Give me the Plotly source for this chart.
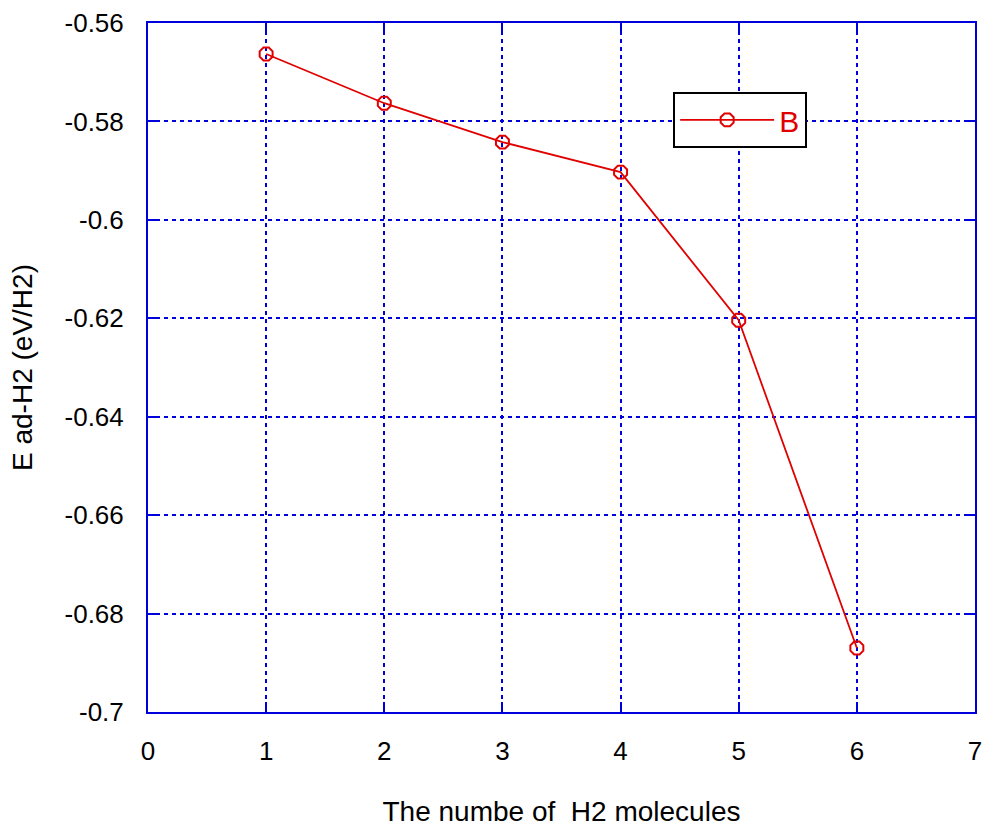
import plotly.graph_objects as go

x_vals = [1, 2, 3, 4, 5, 6]
y_vals = [-0.5663, -0.5763, -0.5842, -0.5903, -0.6204, -0.6870]
series_name = "B"
x_ticks = [0, 1, 2, 3, 4, 5, 6, 7]
y_ticks = [-0.56, -0.58, -0.6, -0.62, -0.64, -0.66, -0.68, -0.7]
y_tick_text = ["-0.56", "-0.58", "-0.6", "-0.62", "-0.64", "-0.66", "-0.68", "-0.7"]

red = "#e00000"
blue = "#0000dd"
font = "Liberation Sans, Arial, sans-serif"

fig = go.Figure()
fig.add_trace(go.Scatter(
    x=x_vals, y=y_vals, name=series_name, mode="lines+markers",
    line=dict(color=red, width=1.8),
    marker=dict(symbol="octagon-open", size=14, color=red, line=dict(width=2, color=red)),
))

axis_common = dict(
    showline=True, linecolor=blue, linewidth=2, mirror="ticks",
    ticks="inside", ticklen=10, tickcolor=blue, tickwidth=2,
    showgrid=True, gridcolor=blue, gridwidth=1.5, griddash="4px,4px",
    zeroline=False, tickfont=dict(size=26, color="black", family=font),
)

fig.update_xaxes(range=[0, 7], tickvals=x_ticks, ticklabelstandoff=15,
                 title=dict(text="The numbe of  H2 molecules", font=dict(size=28, color="black", family=font), standoff=36),
                 **axis_common)
fig.update_yaxes(range=[-0.7, -0.56], tickvals=y_ticks, ticktext=y_tick_text, ticklabelstandoff=17,
                 title=dict(text="E ad-H2 (eV/H2)", font=dict(size=28, color="black", family=font), standoff=24),
                 **axis_common)

fig.update_layout(
    width=988, height=829,
    margin=dict(l=148, r=13, t=23, b=117, autoexpand=False),
    plot_bgcolor="white", paper_bgcolor="white",
    font=dict(family=font, color="black"),
    showlegend=True,
    legend=dict(x=0.635, y=0.9, xanchor="left", yanchor="top",
                bgcolor="white", bordercolor="black", borderwidth=2,
                font=dict(size=30, color=red, family=font),
                itemwidth=94, tracegroupgap=0),
)

fig.write_html("out.html")
